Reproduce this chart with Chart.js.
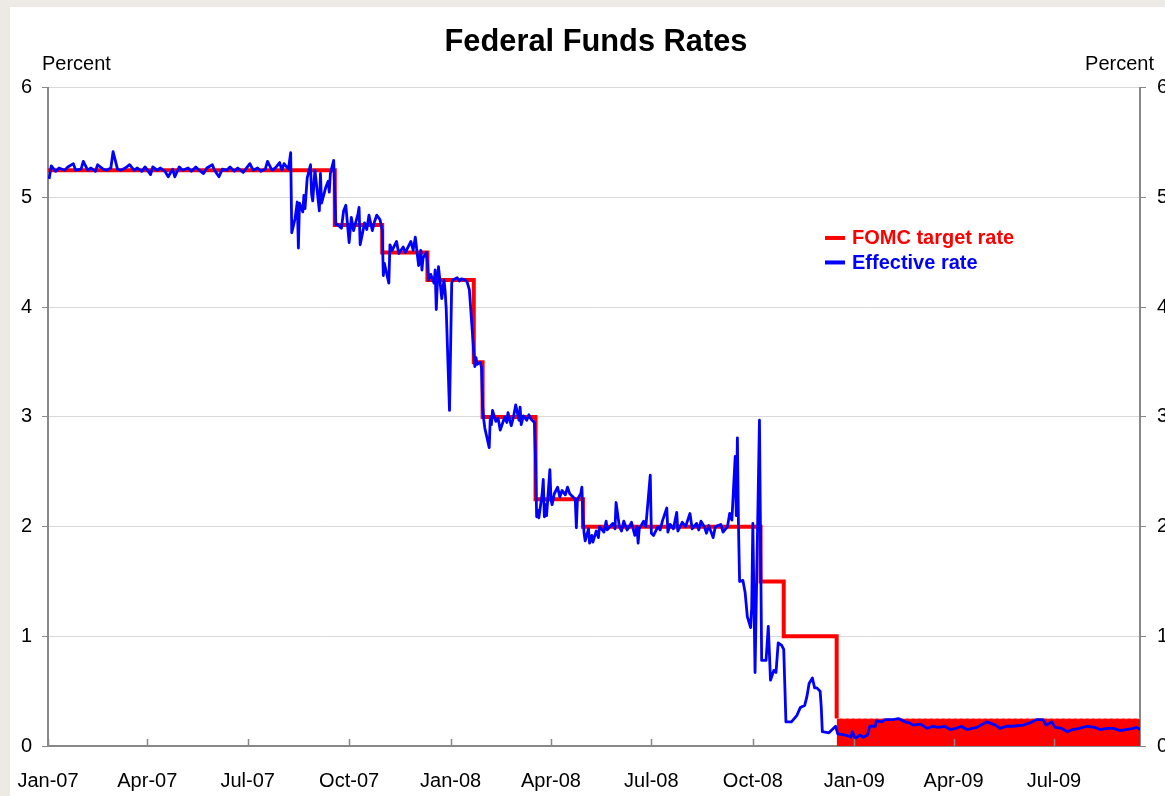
<!DOCTYPE html>
<html>
<head>
<meta charset="utf-8">
<title>Federal Funds Rates</title>
<script src="https://cdn.jsdelivr.net/npm/chart.js@4.4.1/dist/chart.umd.min.js"></script>
<style>
  html, body { margin: 0; padding: 0; background: #edeae6; overflow: hidden; }
  #panel { position: absolute; left: 10px; top: 7px; width: 1172px; height: 800px; background: #fff; }
</style>
</head>
<body>
<div id="panel"><canvas id="rates-canvas" width="1172" height="800"></canvas></div>
<script>
// FOMC target (step changes)
const targetDates = ['2007-01-01', '2007-09-18', '2007-10-31', '2007-12-11', '2008-01-22',
  '2008-01-30', '2008-03-18', '2008-04-30', '2008-10-08', '2008-10-29', '2008-12-16']
const targetRates = [5.25, 4.75, 4.50, 4.25, 3.50, 3.00, 2.25, 2.00, 1.50, 1.00, 0.25]

// target range 0 - 0.25 after Dec 16 2008
const rangeDates = ['2008-12-16', '2009-09-17']
const rangeUpper = [0.25, 0.25]

// effective rate
const effDates = [
  '2007-01-02', '2007-01-04', '2007-01-08', '2007-01-11', '2007-01-16', '2007-01-19', '2007-01-24', '2007-01-26',
  '2007-01-31', '2007-02-02', '2007-02-06', '2007-02-09', '2007-02-13', '2007-02-15', '2007-02-20', '2007-02-23',
  '2007-02-27', '2007-03-01', '2007-03-05', '2007-03-08', '2007-03-12', '2007-03-16', '2007-03-20', '2007-03-23',
  '2007-03-27', '2007-03-30', '2007-04-04', '2007-04-06', '2007-04-10', '2007-04-13', '2007-04-17', '2007-04-20',
  '2007-04-24', '2007-04-26', '2007-04-30', '2007-05-03', '2007-05-08', '2007-05-11', '2007-05-15', '2007-05-18',
  '2007-05-22', '2007-05-25', '2007-05-30', '2007-06-01', '2007-06-05', '2007-06-08', '2007-06-12', '2007-06-15',
  '2007-06-19', '2007-06-22', '2007-06-27', '2007-07-03', '2007-07-06', '2007-07-10', '2007-07-13', '2007-07-17',
  '2007-07-19', '2007-07-23', '2007-07-26', '2007-07-30', '2007-08-01', '2007-08-03', '2007-08-07', '2007-08-09',
  '2007-08-10', '2007-08-13', '2007-08-15', '2007-08-16', '2007-08-17', '2007-08-20', '2007-08-21', '2007-08-22',
  '2007-08-24', '2007-08-27', '2007-08-28', '2007-08-29', '2007-08-31', '2007-09-04', '2007-09-05', '2007-09-06',
  '2007-09-10', '2007-09-12', '2007-09-13', '2007-09-14', '2007-09-17', '2007-09-18', '2007-09-19', '2007-09-20',
  '2007-09-24', '2007-09-26', '2007-09-28', '2007-10-01', '2007-10-03', '2007-10-05', '2007-10-09', '2007-10-10',
  '2007-10-11', '2007-10-15', '2007-10-17', '2007-10-19', '2007-10-22', '2007-10-24', '2007-10-26', '2007-10-29',
  '2007-10-31', '2007-11-01', '2007-11-02', '2007-11-06', '2007-11-07', '2007-11-09', '2007-11-13', '2007-11-15',
  '2007-11-19', '2007-11-21', '2007-11-26', '2007-11-28', '2007-11-30', '2007-12-03', '2007-12-05', '2007-12-06',
  '2007-12-07', '2007-12-10', '2007-12-11', '2007-12-12', '2007-12-14', '2007-12-17', '2007-12-18', '2007-12-19',
  '2007-12-20', '2007-12-21', '2007-12-24', '2007-12-26', '2007-12-27', '2007-12-28', '2007-12-31', '2008-01-02',
  '2008-01-03', '2008-01-07', '2008-01-09', '2008-01-11', '2008-01-14', '2008-01-16', '2008-01-18', '2008-01-22',
  '2008-01-23', '2008-01-24', '2008-01-25', '2008-01-28', '2008-01-29', '2008-01-30', '2008-01-31', '2008-02-01',
  '2008-02-05', '2008-02-06', '2008-02-07', '2008-02-08', '2008-02-11', '2008-02-13', '2008-02-15', '2008-02-19',
  '2008-02-21', '2008-02-22', '2008-02-25', '2008-02-27', '2008-02-29', '2008-03-03', '2008-03-04', '2008-03-05',
  '2008-03-07', '2008-03-10', '2008-03-12', '2008-03-14', '2008-03-17', '2008-03-18', '2008-03-19', '2008-03-20',
  '2008-03-21', '2008-03-24', '2008-03-25', '2008-03-26', '2008-03-27', '2008-03-28', '2008-03-31', '2008-04-01',
  '2008-04-02', '2008-04-04', '2008-04-07', '2008-04-09', '2008-04-11', '2008-04-14', '2008-04-16', '2008-04-18',
  '2008-04-21', '2008-04-23', '2008-04-24', '2008-04-25', '2008-04-28', '2008-04-29', '2008-04-30', '2008-05-01',
  '2008-05-02', '2008-05-05', '2008-05-06', '2008-05-08', '2008-05-09', '2008-05-12', '2008-05-14', '2008-05-15',
  '2008-05-19', '2008-05-21', '2008-05-22', '2008-05-27', '2008-05-29', '2008-05-30', '2008-06-02', '2008-06-04',
  '2008-06-06', '2008-06-09', '2008-06-11', '2008-06-13', '2008-06-16', '2008-06-18', '2008-06-19', '2008-06-20',
  '2008-06-24', '2008-06-26', '2008-06-30', '2008-07-01', '2008-07-03', '2008-07-07', '2008-07-09', '2008-07-11',
  '2008-07-15', '2008-07-16', '2008-07-18', '2008-07-21', '2008-07-24', '2008-07-25', '2008-07-29', '2008-08-01',
  '2008-08-05', '2008-08-07', '2008-08-11', '2008-08-13', '2008-08-15', '2008-08-18', '2008-08-20', '2008-08-22',
  '2008-08-26', '2008-08-28', '2008-09-02', '2008-09-04', '2008-09-08', '2008-09-10', '2008-09-12', '2008-09-15',
  '2008-09-16', '2008-09-17', '2008-09-18', '2008-09-19', '2008-09-22', '2008-09-24', '2008-09-26', '2008-09-29',
  '2008-09-30', '2008-10-01', '2008-10-03', '2008-10-07', '2008-10-09', '2008-10-13', '2008-10-15', '2008-10-16',
  '2008-10-17', '2008-10-20', '2008-10-22', '2008-10-24', '2008-10-27', '2008-10-29', '2008-10-31', '2008-11-05',
  '2008-11-10', '2008-11-13', '2008-11-17', '2008-11-19', '2008-11-21', '2008-11-24', '2008-11-26', '2008-11-28',
  '2008-12-01', '2008-12-02', '2008-12-03', '2008-12-09', '2008-12-15', '2008-12-17', '2008-12-24', '2008-12-29',
  '2008-12-30', '2009-01-02', '2009-01-06', '2009-01-09', '2009-01-13', '2009-01-15', '2009-01-20', '2009-01-21',
  '2009-01-26', '2009-01-29', '2009-02-05', '2009-02-10', '2009-02-16', '2009-02-20', '2009-02-23', '2009-03-02',
  '2009-03-08', '2009-03-13', '2009-03-18', '2009-03-24', '2009-03-29', '2009-04-03', '2009-04-08', '2009-04-13',
  '2009-04-22', '2009-05-01', '2009-05-09', '2009-05-13', '2009-05-19', '2009-05-25', '2009-06-03', '2009-06-09',
  '2009-06-15', '2009-06-21', '2009-06-24', '2009-06-29', '2009-07-02', '2009-07-08', '2009-07-13', '2009-07-18',
  '2009-07-24', '2009-07-31', '2009-08-07', '2009-08-12', '2009-08-18', '2009-08-24', '2009-08-30', '2009-09-04',
  '2009-09-11', '2009-09-14', '2009-09-17'
]
const effRates = [
  5.17, 5.29, 5.24, 5.27, 5.25, 5.28, 5.31, 5.25,
  5.26, 5.33, 5.25, 5.27, 5.24, 5.30, 5.26, 5.25,
  5.27, 5.42, 5.26, 5.25, 5.27, 5.30, 5.25, 5.27,
  5.24, 5.28, 5.21, 5.28, 5.25, 5.27, 5.24, 5.19,
  5.26, 5.19, 5.28, 5.25, 5.27, 5.24, 5.28, 5.25,
  5.22, 5.27, 5.30, 5.25, 5.19, 5.26, 5.25, 5.28,
  5.24, 5.27, 5.23, 5.31, 5.25, 5.27, 5.24, 5.26,
  5.33, 5.25, 5.27, 5.32, 5.25, 5.31, 5.26, 5.41,
  4.68, 4.81, 4.96, 4.54, 4.95, 4.87, 5.02, 4.90,
  5.18, 5.30, 5.03, 4.97, 5.25, 4.88, 5.22, 4.95,
  5.10, 5.15, 5.05, 5.22, 5.34, 5.04, 4.75, 4.76,
  4.72, 4.88, 4.93, 4.59, 4.82, 4.70, 4.85, 4.91,
  4.57, 4.77, 4.71, 4.84, 4.70, 4.78, 4.84, 4.80,
  4.70, 4.29, 4.40, 4.22, 4.57, 4.52, 4.60, 4.49,
  4.55, 4.50, 4.60, 4.52, 4.64, 4.38, 4.52, 4.34,
  4.45, 4.50, 4.40, 4.25, 4.30, 4.22, 4.34, 3.98,
  4.22, 4.37, 4.08, 4.25, 4.15, 3.99, 3.06, 4.22,
  4.25, 4.27, 4.24, 4.26, 4.25, 4.23, 4.16, 3.59,
  3.46, 3.54, 3.48, 3.50, 3.45, 3.10, 2.98, 2.90,
  2.72, 3.00, 2.93, 3.06, 2.96, 2.99, 2.88, 3.00,
  2.95, 3.04, 2.92, 3.00, 3.11, 2.97, 3.09, 2.93,
  3.01, 2.97, 3.02, 2.98, 2.95, 2.60, 2.09, 2.15,
  2.08, 2.30, 2.43, 2.09, 2.20, 2.10, 2.52, 2.25,
  2.20, 2.30, 2.36, 2.27, 2.33, 2.29, 2.36, 2.30,
  2.27, 2.25, 1.99, 2.25, 2.30, 2.36, 2.10, 1.94,
  1.87, 1.98, 1.85, 1.92, 1.86, 1.96, 1.90, 2.00,
  1.95, 2.05, 1.97, 2.03, 1.98, 2.22, 2.00, 1.96,
  2.05, 1.97, 2.00, 2.04, 1.92, 2.00, 1.85, 1.98,
  2.05, 2.00, 2.47, 1.94, 1.92, 2.00, 1.97, 2.05,
  2.17, 1.95, 2.02, 1.98, 2.13, 1.96, 2.04, 2.00,
  2.12, 1.98, 2.03, 1.97, 2.05, 2.00, 1.94, 2.01,
  1.90, 2.00, 2.02, 1.95, 2.00, 2.12, 2.06, 2.64,
  2.10, 2.81, 2.00, 1.50, 1.51, 1.40, 1.18, 1.08,
  1.27, 2.03, 0.67, 2.97, 0.78, 0.78, 1.09, 0.85,
  0.60, 0.69, 0.67, 0.94, 0.92, 0.88, 0.22, 0.22,
  0.28, 0.35, 0.37, 0.45, 0.57, 0.62, 0.53, 0.53,
  0.50, 0.36, 0.13, 0.12, 0.18, 0.11, 0.10, 0.08,
  0.13, 0.07, 0.10, 0.08, 0.10, 0.18, 0.18, 0.23,
  0.22, 0.24, 0.24, 0.25, 0.22, 0.21, 0.19, 0.20,
  0.16, 0.18, 0.17, 0.18, 0.15, 0.16, 0.18, 0.15,
  0.17, 0.22, 0.19, 0.16, 0.18, 0.18, 0.19, 0.21,
  0.24, 0.24, 0.19, 0.22, 0.17, 0.16, 0.13, 0.15,
  0.16, 0.18, 0.17, 0.15, 0.16, 0.16, 0.14, 0.15,
  0.16, 0.17, 0.15
]

const tickLabels = ['Jan-07', 'Apr-07', 'Jul-07', 'Oct-07', 'Jan-08', 'Apr-08',
  'Jul-08', 'Oct-08', 'Jan-09', 'Apr-09', 'Jul-09']
const axisStart = '2007-01-01'
const axisEnd = '2009-09-17'

const FONT = "'Liberation Sans', Arial, sans-serif"
const MONTHS = ['Jan', 'Feb', 'Mar', 'Apr', 'May', 'Jun', 'Jul', 'Aug', 'Sep', 'Oct', 'Nov', 'Dec']

function dayOf(s)
{
    return Math.round((Date.parse(s) - Date.parse(axisStart)) / 86400000)
}

function labelDay(label)
{
    let parts = label.split('-')
    let m = MONTHS.indexOf(parts[0]) + 1
    return dayOf('20' + parts[1] + '-' + String(m).padStart(2, '0') + '-01')
}

function toPoints(dates, values)
{
    return dates.map((d, i) => ({ x: dayOf(d), y: values[i] }))
}

const tickDays = tickLabels.map(labelDay)

// draws inner x ticks, the two "Percent" captions and the in-plot legend
const extrasPlugin = {
    id: 'extras',
    afterDraw(chart) {
        let ctx = chart.ctx
        let area = chart.chartArea
        let xs = chart.scales.x
        ctx.save()

        ctx.strokeStyle = '#888888'
        ctx.lineWidth = 1.5
        for (let i = 0; i < tickDays.length; ++i) {
            let px = Math.round(xs.getPixelForValue(tickDays[i])) + 0.5
            ctx.beginPath()
            ctx.moveTo(px, area.bottom)
            ctx.lineTo(px, area.bottom - 7)
            ctx.stroke()
        }

        ctx.fillStyle = '#000'
        ctx.font = '20px ' + FONT
        ctx.textBaseline = 'middle'
        ctx.textAlign = 'left'
        ctx.fillText('Percent', area.left - 6, area.top - 23)
        ctx.textAlign = 'right'
        ctx.fillText('Percent', area.right + 14, area.top - 23)

        let lx = area.left + 777
        let ly = area.top + 150
        ctx.textAlign = 'left'
        ctx.font = 'bold 20px ' + FONT
        chart.data.datasets.filter(ds => ds.inLegend).sort((a, b) => a.legendIndex - b.legendIndex).forEach((ds, i) => {
            let y = ly + i * 24.5
            ctx.strokeStyle = ds.borderColor
            ctx.lineWidth = 4
            ctx.beginPath()
            ctx.moveTo(lx, y)
            ctx.lineTo(lx + 20, y)
            ctx.stroke()
            ctx.fillStyle = ds.borderColor
            ctx.fillText(ds.label, lx + 27, y + 1)
        })
        ctx.restore()
    }
}

function initChart()
{
    let ctx = document.getElementById('rates-canvas').getContext('2d')
    let yTicks = { stepSize: 1, padding: 10, color: '#000', font: { family: FONT, size: 20 } }

    return new Chart(ctx, {
        type: 'line',
        data: {
            datasets: [
                {
                    label: 'Effective rate',
                    data: toPoints(effDates, effRates),
                    borderColor: '#0000ff',
                    borderWidth: 2.8,
                    borderJoinStyle: 'round',
                    pointRadius: 0,
                    fill: false,
                    order: 0,
                    inLegend: true,
                    legendIndex: 1
                },
                {
                    label: 'FOMC target rate',
                    data: toPoints(targetDates, targetRates),
                    borderColor: '#ff0000',
                    borderWidth: 4,
                    stepped: 'before',
                    pointRadius: 0,
                    fill: false,
                    order: 1,
                    inLegend: true,
                    legendIndex: 0
                },
                {
                    label: 'Target range',
                    data: toPoints(rangeDates, rangeUpper),
                    borderColor: 'rgba(255,190,190,1)',
                    borderWidth: 1,
                    borderDash: [3, 3],
                    backgroundColor: '#ff0000',
                    pointRadius: 0,
                    fill: 'origin',
                    order: 2
                }
            ]
        },
        options: {
            responsive: false,
            animation: false,
            devicePixelRatio: 1,
            layout: { padding: 0 },
            plugins: {
                legend: { display: false },
                tooltip: { enabled: false },
                title: {
                    display: true,
                    text: 'Federal Funds Rates',
                    color: '#000',
                    font: { family: FONT, size: 30.8, weight: 'bold', lineHeight: 1.2 },
                    padding: { top: 17, bottom: 27 }
                }
            },
            scales: {
                x: {
                    type: 'linear',
                    min: 0,
                    max: dayOf(axisEnd),
                    afterBuildTicks: (scale) => {
                        scale.ticks = tickDays.map(v => ({ value: v }))
                    },
                    afterFit: (scale) => {
                        scale.height = 61
                        scale.paddingLeft = 0
                        scale.paddingRight = 0
                    },
                    ticks: {
                        autoSkip: false,
                        maxRotation: 0,
                        padding: 15,
                        color: '#000',
                        font: { family: FONT, size: 20 },
                        callback: (value) => tickLabels[tickDays.indexOf(value)]
                    },
                    grid: { display: false },
                    border: { display: true, color: '#888888', width: 2 }
                },
                y: {
                    position: 'left',
                    min: 0,
                    max: 6,
                    afterFit: (scale) => { scale.width = 38 },
                    ticks: yTicks,
                    grid: { color: '#d9d9d9', lineWidth: 1, tickLength: 6, tickColor: '#888888' },
                    border: { color: '#888888', width: 2 }
                },
                y2: {
                    position: 'right',
                    min: 0,
                    max: 6,
                    afterFit: (scale) => { scale.width = 42 },
                    ticks: Object.assign({}, yTicks, { padding: 11 }),
                    grid: { drawOnChartArea: false, tickLength: 6, color: '#888888' },
                    border: { color: '#888888', width: 2 }
                }
            }
        },
        plugins: [extrasPlugin]
    })
}

initChart()
</script>
</body>
</html>
